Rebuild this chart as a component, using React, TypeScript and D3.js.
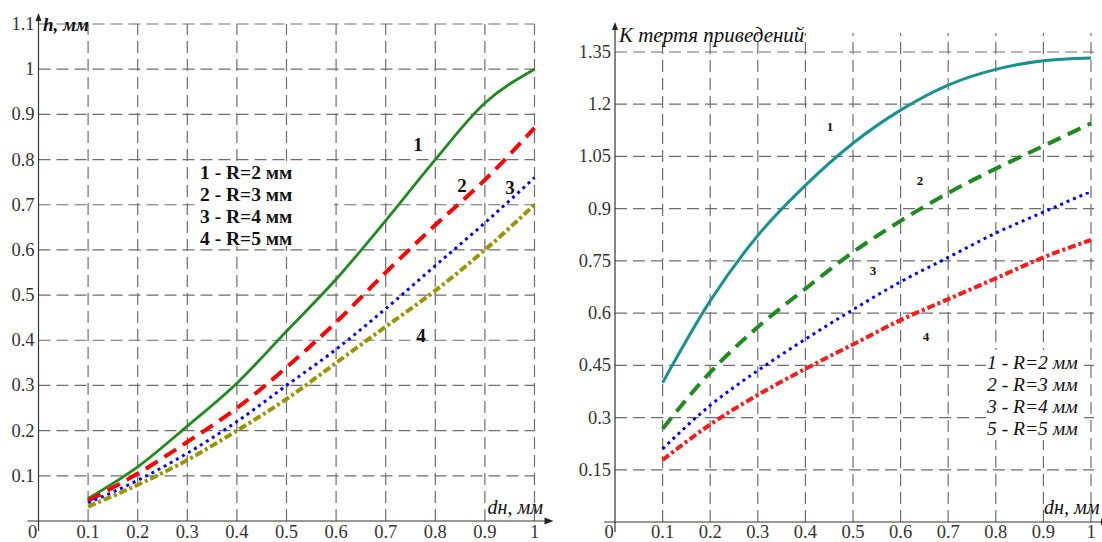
import * as d3 from 'd3';
import React from 'react';

// x values shared by every curve
const dn = [0.1, 0.2, 0.3, 0.4, 0.5, 0.6, 0.7, 0.8, 0.9, 1.0];

// left chart: h, mm
const hR2 = [0.05, 0.12, 0.21, 0.305, 0.42, 0.535, 0.665, 0.8, 0.925, 1.0];
const hR3 = [0.045, 0.105, 0.175, 0.25, 0.34, 0.44, 0.55, 0.655, 0.755, 0.87];
const hR4 = [0.04, 0.09, 0.15, 0.22, 0.3, 0.38, 0.47, 0.565, 0.66, 0.76];
const hR5 = [0.032, 0.08, 0.135, 0.2, 0.27, 0.35, 0.43, 0.51, 0.6, 0.7];

// right chart: reduced friction coefficient
const kR2 = [0.4, 0.635, 0.823, 0.967, 1.088, 1.183, 1.255, 1.3, 1.325, 1.333];
const kR3 = [0.268, 0.43, 0.56, 0.67, 0.775, 0.865, 0.945, 1.015, 1.08, 1.145];
const kR4 = [0.21, 0.335, 0.435, 0.525, 0.61, 0.69, 0.76, 0.83, 0.89, 0.95];
const kR5 = [0.178, 0.28, 0.365, 0.44, 0.51, 0.58, 0.64, 0.7, 0.76, 0.81];

const xTicks = [0.1, 0.2, 0.3, 0.4, 0.5, 0.6, 0.7, 0.8, 0.9, 1];
const hTicks = [0.1, 0.2, 0.3, 0.4, 0.5, 0.6, 0.7, 0.8, 0.9, 1, 1.1];
const kTicks = [0.15, 0.3, 0.45, 0.6, 0.75, 0.9, 1.05, 1.2, 1.35];

const leftLegend = ['1 - R=2 мм', '2 - R=3 мм', '3 - R=4 мм', '4 - R=5 мм'];
const rightLegend = ['1 - R=2 мм', '2 - R=3 мм', '3 - R=4 мм', '5 - R=5 мм'];

const serif = '"Liberation Serif", "Times New Roman", Times, "DejaVu Serif", "Noto Serif", serif';
const gridColor = '#6e6e6e';

function Panel({ x0, x1, y0, yTop, yMax, ticks, series, fmt, yTitle, yTitleX, yTitleY, yTitleSize, yTitleWeight, gridTop, gridRight }) {
  const x = d3.scaleLinear().domain([0, 1]).range([x0, x1]);
  const y = d3.scaleLinear().domain([0, yMax]).range([y0, yTop]);
  const line = d3
    .line<number>()
    .x((d, i) => x(dn[i]))
    .y(d => y(d))
    .curve(d3.curveMonotoneX);

  return (
    <g>
      {/* grid */}
      {ticks.map(t => (
        <line key={'h' + t} x1={x0} x2={gridRight} y1={y(t)} y2={y(t)}
          stroke={gridColor} strokeWidth={1.2} strokeDasharray="12 6" />
      ))}
      {xTicks.map(t => (
        <line key={'v' + t} x1={x(t)} x2={x(t)} y1={y0} y2={gridTop}
          stroke={gridColor} strokeWidth={1.2} strokeDasharray="12 6" />
      ))}
      {/* axes */}
      <line x1={x0 - 11} x2={x1 + 14} y1={y0} y2={y0} stroke="#333" strokeWidth={1.2} />
      <path d={`M${x1 + 19},${y0} l-9,-3.5 v7 z`} fill="#222" />
      <line x1={x0} x2={x0} y1={y0 + 10} y2={gridTop - 6} stroke="#333" strokeWidth={1.2} />
      <path d={`M${x0},${gridTop - 11} l-3,8 h6 z`} fill="#222" />
      {/* tick labels */}
      {xTicks.map(t => (
        <text key={'xt' + t} x={x(t)} y={538} textAnchor="middle" fontFamily={serif}
          fontSize={18.5} fill="#333">{d3.format('~g')(t)}</text>
      ))}
      <text x={x0 - 6} y={538} textAnchor="middle" fontFamily={serif} fontSize={18.5} fill="#333">0</text>
      {ticks.map(t => (
        <text key={'yt' + t} x={x0 - 4} y={y(t) + 6} textAnchor="end" fontFamily={serif}
          fontSize={18.5} fill="#333">{fmt(t)}</text>
      ))}
      {/* titles */}
      <text x={yTitleX} y={yTitleY} fontFamily={serif} fontStyle="italic" fontSize={yTitleSize}
        fontWeight={yTitleWeight} fill="#111">{yTitle}</text>
      <text x={x1 - 47} y={514} fontFamily={serif} fontStyle="italic" fontSize={20} fill="#111">dн, мм</text>
      {/* curves */}
      {series.map((s, i) => (
        <path key={i} d={line(s.values)} fill="none" stroke={s.color} strokeWidth={s.width}
          strokeDasharray={s.dash} />
      ))}
    </g>
  );
}

export default function App() {
  const leftSeries = [
    { values: hR2, color: '#1f8a1f', width: 2.8, dash: null },
    { values: hR3, color: '#ff0000', width: 4, dash: '14 8' },
    { values: hR4, color: '#0000ff', width: 3, dash: '3 4' },
    { values: hR5, color: '#999400', width: 4, dash: '8 3 3 3' },
  ];
  const rightSeries = [
    { values: kR2, color: '#1a9090', width: 3, dash: null },
    { values: kR3, color: '#1f8a1f', width: 4, dash: '14 8' },
    { values: kR4, color: '#0000ff', width: 3, dash: '3 4' },
    { values: kR5, color: '#ff1a1a', width: 4, dash: '8 3 3 3' },
  ];

  return (
    <svg width={1102} height={542} style={{ display: 'block', position: 'absolute', left: 0, top: 0, background: '#fff', fontFamily: serif }}>
      <Panel x0={38.5} x1={534.5} y0={521} yTop={24} yMax={1.1} ticks={hTicks}
        series={leftSeries} fmt={d3.format('~g')} yTitle="h, мм" yTitleX={43} yTitleY={31}
        yTitleSize={19} yTitleWeight="bold" gridTop={24} gridRight={534.5} />
      <Panel x0={615} x1={1091} y0={522} yTop={52} yMax={1.35} ticks={kTicks}
        series={rightSeries} fmt={d3.format('~g')} yTitle="К тертя приведений" yTitleX={619} yTitleY={42}
        yTitleSize={21} yTitleWeight="normal" gridTop={33} gridRight={1094} />

      {/* left annotations */}
      <rect x={197} y={161} width={137} height={85} fill="#fff" />
      {leftLegend.map((t, i) => (
        <text key={t} x={200} y={179 + i * 22} fontFamily={serif} fontWeight="bold" fontSize={19.5} fill="#111">{t}</text>
      ))}
      <text x={418} y={151} textAnchor="middle" fontFamily={serif} fontWeight="bold" fontSize={19} fill="#111">1</text>
      <text x={462} y={192} textAnchor="middle" fontFamily={serif} fontWeight="bold" fontSize={19} fill="#111">2</text>
      <text x={510} y={194} textAnchor="middle" fontFamily={serif} fontWeight="bold" fontSize={19} fill="#111">3</text>
      <text x={421} y={342} textAnchor="middle" fontFamily={serif} fontWeight="bold" fontSize={19} fill="#111">4</text>

      {/* right annotations */}
      <rect x={986} y={350} width={98} height={90} fill="#fff" />
      {rightLegend.map((t, i) => (
        <text key={t} x={987} y={369 + i * 22} fontFamily={serif} fontStyle="italic" fontSize={19.5} fill="#111">{t}</text>
      ))}
      <text x={830} y={131} textAnchor="middle" fontFamily={serif} fontWeight="bold" fontSize={13} fill="#111">1</text>
      <text x={920} y={185} textAnchor="middle" fontFamily={serif} fontWeight="bold" fontSize={13} fill="#111">2</text>
      <text x={873} y={275} textAnchor="middle" fontFamily={serif} fontWeight="bold" fontSize={13} fill="#111">3</text>
      <text x={926} y={341} textAnchor="middle" fontFamily={serif} fontWeight="bold" fontSize={13} fill="#111">4</text>
    </svg>
  );
}
